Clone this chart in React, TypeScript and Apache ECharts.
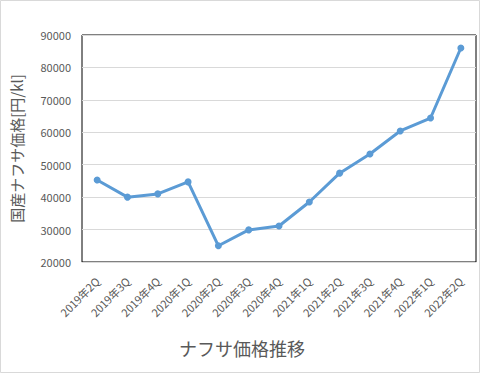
import React, { useEffect, useRef } from "react";
import * as echarts from "echarts";

const categories = [
  "2019年2Q", "2019年3Q", "2019年4Q", "2020年1Q", "2020年2Q", "2020年3Q", "2020年4Q",
  "2021年1Q", "2021年2Q", "2021年3Q", "2021年4Q", "2022年1Q", "2022年2Q",
];
const prices = [45300, 40000, 41000, 44700, 25000, 29900, 31100, 38500, 47400, 53300, 60400, 64400, 86000];
const yMin = 20000;
const yMax = 90000;
const yStep = 10000;
const yTitle = "国産ナフサ価格[円/kl]";
const xTitle = "ナフサ価格推移";

const FONT = "'Noto Sans CJK JP', 'Noto Sans', sans-serif";

export default function App() {
  const ref = useRef<HTMLDivElement>(null);
  useEffect(() => {
    document.body.style.margin = "0";
    const chart = echarts.init(ref.current!, undefined, { renderer: "svg" });
    chart.setOption({
      animation: false,
      backgroundColor: "#ffffff",
      grid: {
        left: 82,
        right: 5,
        top: 35,
        bottom: 112,
        show: true,
        borderColor: "#000000",
        borderWidth: 1,
        backgroundColor: "transparent",
      },
      graphic: [
        {
          type: "rect",
          shape: { x: 0.5, y: 0.5, width: 479, height: 372 },
          style: { fill: "none", stroke: "#D9D9D9", lineWidth: 1 },
          z: -1,
        },
        {
          type: "text",
          x: 242,
          y: 348,
          style: {
            text: xTitle,
            fill: "#595959",
            font: `18px ${FONT}`,
            textAlign: "center",
            textVerticalAlign: "middle",
          },
        },
      ],
      xAxis: {
        type: "category",
        data: categories,
        boundaryGap: true,
        axisLine: { show: true, lineStyle: { color: "#D9D9D9", width: 1 } },
        axisTick: { show: false },
        axisLabel: {
          rotate: 45,
          margin: 17,
          fontSize: 11,
          color: "#595959",
          fontFamily: FONT,
          interval: 0,
        },
        z: 10,
      },
      yAxis: {
        type: "value",
        min: yMin,
        max: yMax,
        interval: yStep,
        name: yTitle,
        nameLocation: "middle",
        nameRotate: 90,
        nameGap: 58,
        nameTextStyle: { fontSize: 15, color: "#595959", fontFamily: FONT },
        axisLine: { show: false },
        axisTick: { show: false },
        axisLabel: {
          fontSize: 11,
          color: "#595959",
          fontFamily: FONT,
          margin: 11,
          formatter: (v: number) => String(v),
        },
        splitLine: { show: true, lineStyle: { color: "#D9D9D9", width: 1 } },
      },
      series: [
        {
          type: "line",
          data: prices,
          lineStyle: { color: "#5B9BD5", width: 3 },
          itemStyle: { color: "#5B9BD5" },
          symbol: "circle",
          symbolSize: 7,
          showSymbol: true,
        },
      ],
    });
    return () => chart.dispose();
  }, []);
  return (
    <div
      ref={ref}
      style={{ position: "absolute", left: 0, top: 0, width: 481, height: 374 }}
    />
  );
}
